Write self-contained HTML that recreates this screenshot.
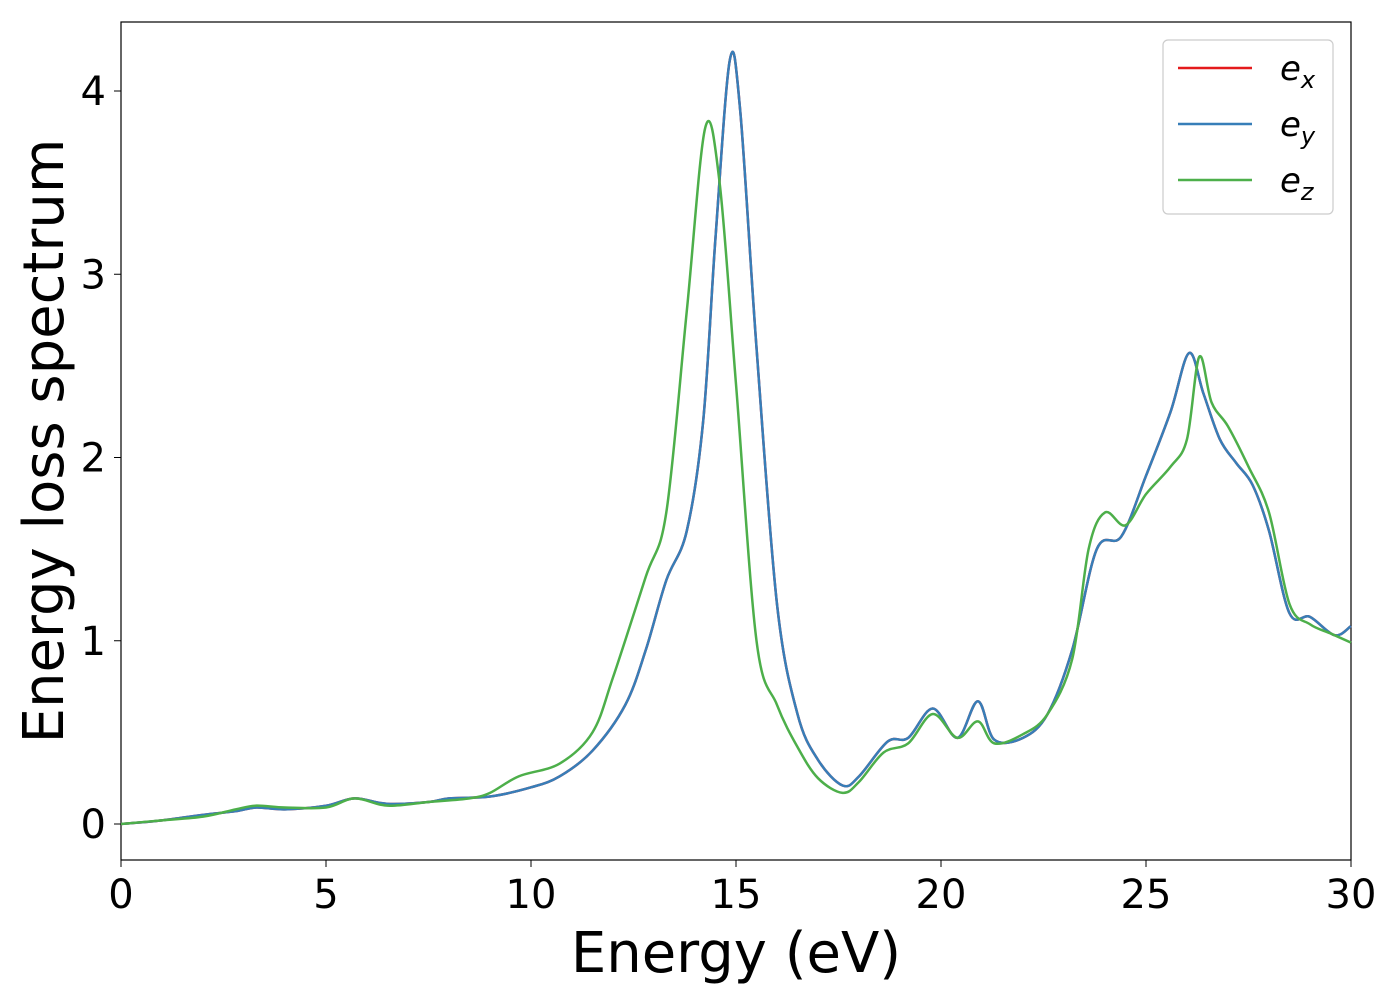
<!DOCTYPE html>
<html><head><meta charset="utf-8"><style>
body{margin:0;background:#fff;}
svg{font-family:"DejaVu Sans","Liberation Sans",sans-serif;}
</style></head><body>
<svg id="chart" width="1400" height="1000">
<rect x="121" y="22" width="1230" height="838" fill="#fff" stroke="#000" stroke-width="1.2"/>
<g id="ticks"></g>
<g id="series"></g>
<text x="736" y="972" font-size="56" text-anchor="middle">Energy (eV)</text>
<text transform="translate(63,441) rotate(-90)" font-size="56" text-anchor="middle">Energy loss spectrum</text>
<g>
<rect x="1163" y="40" width="170" height="174" rx="5" fill="#fff" stroke="#ccc" stroke-width="1.2"/>
<line x1="1178" y1="68" x2="1252" y2="68" stroke="#e41a1c" stroke-width="2.5"/>
<text x="1280" y="80" font-size="34" font-style="italic">e<tspan font-size="24" dy="8">x</tspan></text>
<line x1="1178" y1="124" x2="1252" y2="124" stroke="#377eb8" stroke-width="2.5"/>
<text x="1280" y="136" font-size="34" font-style="italic">e<tspan font-size="24" dy="8">y</tspan></text>
<line x1="1178" y1="180" x2="1252" y2="180" stroke="#4daf4a" stroke-width="2.5"/>
<text x="1280" y="192" font-size="34" font-style="italic">e<tspan font-size="24" dy="8">z</tspan></text>
</g>
</svg>
<script>
const xTicks=[0,5,10,15,20,25,30];
const yTicks=[0,1,2,3,4];
const exE=[0,1,2,2.8,3.3,4,5,5.7,6.5,7.5,8,9,10,10.7,11.5,12.3,12.8,13.3,13.8,14.2,14.5,14.85,15.1,15.5,16,16.5,17,17.6,18,18.7,19.2,19.8,20.4,20.9,21.3,22,22.6,23.2,23.8,24.4,25,25.6,26.05,26.4,26.8,27.2,27.6,28,28.5,29,29.6,30];
const exV=[0,0.02,0.05,0.07,0.09,0.08,0.1,0.14,0.11,0.12,0.14,0.15,0.2,0.26,0.4,0.65,0.95,1.33,1.6,2.2,3.2,4.17,3.9,2.6,1.2,0.6,0.35,0.21,0.26,0.45,0.47,0.63,0.47,0.67,0.46,0.47,0.6,0.95,1.5,1.57,1.9,2.25,2.57,2.35,2.1,1.97,1.85,1.6,1.15,1.13,1.03,1.08];
const eyV=exV.slice();
const ezE=[0,1,2,2.8,3.3,4,5,5.7,6.5,7.5,8.5,9,9.7,10.7,11.5,12,12.8,13.3,13.8,14.25,14.6,15,15.5,16,16.5,17,17.6,18,18.6,19.2,19.8,20.4,20.9,21.3,22,22.6,23.2,23.6,24,24.5,25,25.6,26,26.3,26.6,27,27.5,28,28.5,29,29.5,30];
const ezV=[0,0.02,0.04,0.08,0.1,0.09,0.09,0.14,0.1,0.12,0.14,0.17,0.26,0.33,0.5,0.8,1.35,1.7,2.8,3.8,3.5,2.4,1.0,0.65,0.42,0.25,0.17,0.23,0.39,0.44,0.6,0.47,0.56,0.44,0.49,0.6,0.9,1.5,1.7,1.63,1.8,1.95,2.1,2.55,2.3,2.17,1.95,1.7,1.2,1.09,1.04,0.99];
const X=e=>121+e*41, Y=v=>824-v*183.25;
const NS='http://www.w3.org/2000/svg';
const tg=document.getElementById('ticks'), sg=document.getElementById('series');
xTicks.forEach(t=>{
 const l=document.createElementNS(NS,'line');l.setAttribute('x1',X(t));l.setAttribute('x2',X(t));l.setAttribute('y1',860);l.setAttribute('y2',867);l.setAttribute('stroke','#000');
 
 
 tg.appendChild(l);
 const s=document.createElementNS(NS,'text');s.setAttribute('x',X(t));s.setAttribute('y',908);s.setAttribute('font-size','40');s.setAttribute('text-anchor','middle');s.textContent=t;
 
 
 tg.appendChild(s);
});
yTicks.forEach(t=>{
 const l=document.createElementNS(NS,'line');l.setAttribute('x1',114);l.setAttribute('x2',121);l.setAttribute('y1',Y(t));l.setAttribute('y2',Y(t));l.setAttribute('stroke','#000');
 
 
 tg.appendChild(l);
 const s=document.createElementNS(NS,'text');s.setAttribute('x',106);s.setAttribute('y',Y(t)+14);s.setAttribute('font-size','40');s.setAttribute('text-anchor','end');s.textContent=t;
 
 
 tg.appendChild(s);
});
function path(es,vs){
 const p=es.map((e,i)=>[X(e),Y(vs[i])]);
 let d='M'+p[0][0]+','+p[0][1];
 for(let i=0;i<p.length-1;i++){
  const p0=p[Math.max(0,i-1)],p1=p[i],p2=p[i+1],p3=p[Math.min(p.length-1,i+2)];
  const c1=[p1[0]+(p2[0]-p0[0])/6,p1[1]+(p2[1]-p0[1])/6],c2=[p2[0]-(p3[0]-p1[0])/6,p2[1]-(p3[1]-p1[1])/6];
  d+=' C'+c1+' '+c2+' '+p2;
 }
 return d;
}
[[exE,exV,'#e41a1c','series-ex'],[exE,eyV,'#377eb8','series-ey'],[ezE,ezV,'#4daf4a','series-ez']].forEach(s=>{
 const el=document.createElementNS(NS,'path');el.setAttribute('d',path(s[0],s[1]));el.setAttribute('fill','none');el.setAttribute('stroke',s[2]);el.setAttribute('stroke-width','2.5');
 
 
 sg.appendChild(el);
});
</script>
</body></html>
